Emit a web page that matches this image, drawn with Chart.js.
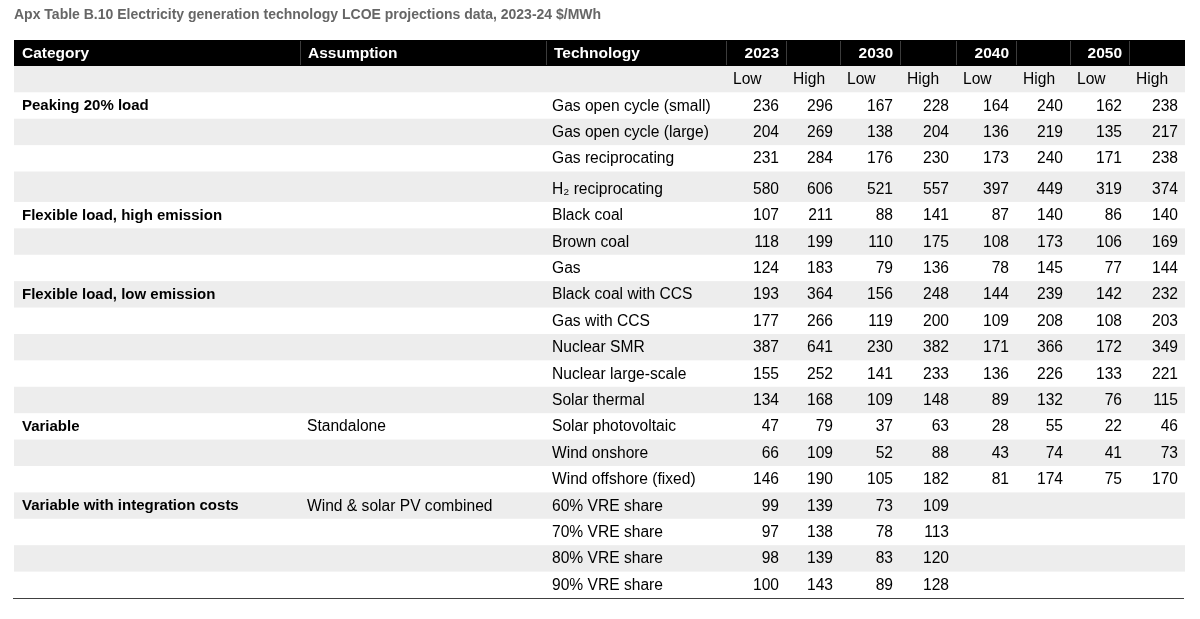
<!DOCTYPE html>
<html>
<head>
<meta charset="utf-8">
<title>LCOE projections</title>
<script src="https://cdn.jsdelivr.net/npm/chart.js@4.4.1/dist/chart.umd.min.js"></script>
<style>
  html, body { margin: 0; padding: 0; background: #fff; }
  #wrap { width: 1200px; height: 619px; position: relative; }
</style>
</head>
<body>
<div id="wrap"><canvas id="chart"></canvas></div>
<script>
const title = 'Apx Table B.10 Electricity generation technology LCOE projections data, 2023-24 $/MWh';

const headers = ['Category', 'Assumption', 'Technology'];
const years = ['2023', '2030', '2040', '2050'];
const bounds = ['Low', 'High'];

const categories = [
  'Peaking 20% load', '', '', '',
  'Flexible load, high emission', '', '',
  'Flexible load, low emission', '', '', '', '',
  'Variable', '', '',
  'Variable with integration costs', '', '', ''
];
const assumptions = [
  '', '', '', '',
  '', '', '',
  '', '', '', '', '',
  'Standalone', '', '',
  'Wind & solar PV combined', '', '', ''
];
const technologies = [
  'Gas open cycle (small)', 'Gas open cycle (large)', 'Gas reciprocating', 'H₂ reciprocating',
  'Black coal', 'Brown coal', 'Gas',
  'Black coal with CCS', 'Gas with CCS', 'Nuclear SMR', 'Nuclear large-scale', 'Solar thermal',
  'Solar photovoltaic', 'Wind onshore', 'Wind offshore (fixed)',
  '60% VRE share', '70% VRE share', '80% VRE share', '90% VRE share'
];

const low2023  = [236, 204, 231, 580, 107, 118, 124, 193, 177, 387, 155, 134, 47, 66, 146, 99, 97, 98, 100];
const high2023 = [296, 269, 284, 606, 211, 199, 183, 364, 266, 641, 252, 168, 79, 109, 190, 139, 138, 139, 143];
const low2030  = [167, 138, 176, 521, 88, 110, 79, 156, 119, 230, 141, 109, 37, 52, 105, 73, 78, 83, 89];
const high2030 = [228, 204, 230, 557, 141, 175, 136, 248, 200, 382, 233, 148, 63, 88, 182, 109, 113, 120, 128];
const low2040  = [164, 136, 173, 397, 87, 108, 78, 144, 109, 171, 136, 89, 28, 43, 81, null, null, null, null];
const high2040 = [240, 219, 240, 449, 140, 173, 145, 239, 208, 366, 226, 132, 55, 74, 174, null, null, null, null];
const low2050  = [162, 135, 171, 319, 86, 106, 77, 142, 108, 172, 133, 76, 22, 41, 75, null, null, null, null];
const high2050 = [238, 217, 238, 374, 140, 169, 144, 232, 203, 349, 221, 115, 46, 73, 170, null, null, null, null];

const valueCols = [low2023, high2023, low2030, high2030, low2040, high2040, low2050, high2050];

// layout: column edges (x units) and row heights (y units)
const colEdges = [0, 286, 532, 712, 772, 826, 886, 942, 1002, 1056, 1115, 1171];
const rowHeights = [26, 26.3].concat(technologies.map(t => t.startsWith('H₂') ? 30.4 : 26.4));
const rowEdges = [0];
rowHeights.forEach(h => rowEdges.push(rowEdges[rowEdges.length - 1] + h));

const FONT = "'Liberation Sans', Arial, sans-serif";

const tablePlugin = {
  id: 'table',
  beforeDatasetsDraw(chart) {
    const {ctx, scales: {x, y}} = chart;
    const left = x.getPixelForValue(colEdges[0]);
    const right = x.getPixelForValue(colEdges[colEdges.length - 1]);
    const top = r => y.getPixelForValue(rowEdges[r]);
    const bottom = r => y.getPixelForValue(rowEdges[r + 1]);
    const cx = c => x.getPixelForValue(colEdges[c]);

    ctx.save();

    // header bar
    ctx.fillStyle = '#000';
    ctx.fillRect(left, top(0), right - left, bottom(0) - top(0));
    ctx.strokeStyle = '#3c3c3c';
    ctx.lineWidth = 1;
    for (let c = 1; c < colEdges.length - 1; c++) {
      const px = Math.round(cx(c)) + 0.5;
      ctx.beginPath();
      ctx.moveTo(px, top(0) + 1);
      ctx.lineTo(px, bottom(0) - 1);
      ctx.stroke();
    }

    // stripes
    ctx.fillStyle = '#ededed';
    ctx.fillRect(left, top(1), right - left, bottom(1) - top(1));
    technologies.forEach((t, i) => {
      if (i % 2 === 1) {
        const r = i + 2;
        ctx.fillRect(left, top(r), right - left, bottom(r) - top(r));
      }
    });

    // header text
    ctx.textBaseline = 'middle';
    ctx.fillStyle = '#fff';
    ctx.font = 'bold 15.5px ' + FONT;
    const hy = (top(0) + bottom(0)) / 2 + 0.5;
    ctx.textAlign = 'left';
    headers.forEach((h, c) => ctx.fillText(h, cx(c) + 8, hy));
    ctx.textAlign = 'right';
    years.forEach((yr, k) => ctx.fillText(yr, cx(4 + k * 2) - 7, hy));

    // Low / High
    ctx.fillStyle = '#000';
    ctx.font = '15.6px ' + FONT;
    ctx.textAlign = 'left';
    const sy = bottom(1) - 12.5;
    years.forEach((yr, k) => {
      bounds.forEach((b, j) => ctx.fillText(b, cx(3 + k * 2 + j) + 7, sy));
    });

    // body rows
    technologies.forEach((tech, i) => {
      const r = i + 2;
      const ty = bottom(r) - 12.5;
      ctx.textAlign = 'left';
      if (categories[i]) {
        ctx.font = 'bold 15px ' + FONT;
        ctx.fillText(categories[i], cx(0) + 8, ty);
      }
      ctx.font = '15.6px ' + FONT;
      if (assumptions[i]) ctx.fillText(assumptions[i], cx(1) + 7, ty);
      ctx.fillText(tech, cx(2) + 6, ty);
      ctx.textAlign = 'right';
      valueCols.forEach((col, c) => {
        if (col[i] != null) ctx.fillText(String(col[i]), cx(4 + c) - 7, ty);
      });
    });

    // bottom rule
    const by = Math.round(y.getPixelForValue(rowEdges[rowEdges.length - 1])) + 0.5;
    ctx.strokeStyle = '#404040';
    ctx.lineWidth = 1.2;
    ctx.beginPath();
    ctx.moveTo(left - 1, by);
    ctx.lineTo(right - 1, by);
    ctx.stroke();

    ctx.restore();
  }
};

new Chart(document.getElementById('chart').getContext('2d'), {
  type: 'scatter',
  data: {datasets: []},
  options: {
    responsive: true,
    maintainAspectRatio: false,
    animation: false,
    devicePixelRatio: 1,
    layout: {padding: {left: 14, right: 15, top: 7, bottom: 21}},
    scales: {
      x: {type: 'linear', display: false, min: colEdges[0], max: colEdges[colEdges.length - 1]},
      y: {type: 'linear', display: false, reverse: true, min: rowEdges[0], max: rowEdges[rowEdges.length - 1]}
    },
    plugins: {
      legend: {display: false},
      tooltip: {enabled: false},
      title: {
        display: true,
        text: title,
        align: 'start',
        color: '#666666',
        font: {family: FONT, size: 14, weight: 'bold'},
        padding: {top: 0, bottom: 16.2}
      }
    }
  },
  plugins: [tablePlugin]
});
</script>
</body>
</html>
